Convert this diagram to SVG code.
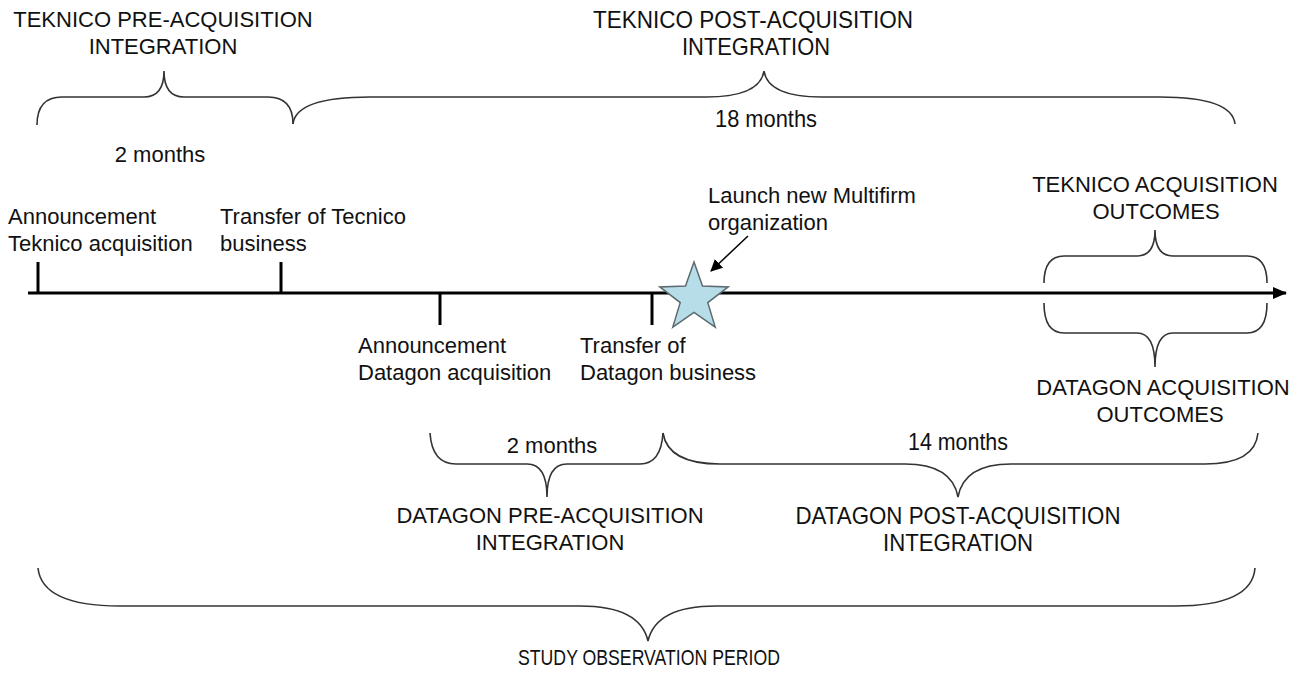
<svg xmlns="http://www.w3.org/2000/svg" width="1298" height="677" viewBox="0 0 1298 677">
<style>
text{font-family:"Liberation Sans",Arial,sans-serif;font-size:22px;fill:#111}
.c{text-anchor:middle}
.n{font-size:24px}
.brace{fill:none;stroke:#333;stroke-width:1.6}
.axis{fill:none;stroke:#000;stroke-width:3}
.tick{stroke:#000;stroke-width:3}
</style>
<defs>
<marker id="ah" markerWidth="12" markerHeight="12" refX="11" refY="6" orient="auto" markerUnits="userSpaceOnUse"><path d="M0,0 L12,6 L0,12 z" fill="#000"/></marker>
<marker id="ah2" markerWidth="14" markerHeight="12" refX="13" refY="6" orient="auto" markerUnits="userSpaceOnUse"><path d="M0,0 L14,6 L0,12 z" fill="#000"/></marker>
</defs>
<g id="connectors">
<path class="axis" d="M28,293 H1286" marker-end="url(#ah2)"/>
<path d="M748,236 L711,271" stroke="#000" stroke-width="1.5" marker-end="url(#ah)"/>
</g>
<g id="tick-teknico-announce"><line class="tick" x1="38" y1="262" x2="38" y2="293"/>
<text x="8" y="224">Announcement</text><text x="8" y="251">Teknico acquisition</text></g>
<g id="tick-teknico-transfer"><line class="tick" x1="281" y1="262" x2="281" y2="293"/>
<text x="220" y="224">Transfer of Tecnico</text><text x="220" y="251">business</text></g>
<g id="tick-datagon-announce"><line class="tick" x1="440" y1="293" x2="440" y2="325"/>
<text x="358" y="353">Announcement</text><text x="358" y="380">Datagon acquisition</text></g>
<g id="tick-datagon-transfer"><line class="tick" x1="652" y1="293" x2="652" y2="325"/>
<text x="580" y="353">Transfer of</text><text x="580" y="380">Datagon business</text></g>
<g id="launch">
<polygon points="694,262 702.5,286.1 728.2,286.9 707.8,302.6 715.2,327.1 694,312.5 672.8,327.1 680.2,302.6 659.8,286.9 685.5,286.1" fill="#b7dde8" stroke="#5b6b70" stroke-width="1.5"/>
<text x="708" y="203">Launch new Multifirm</text><text x="708" y="230">organization</text></g>
<g id="teknico-pre">
<path class="brace" d="M37,125 Q37,97 62,97 L144,97 Q164,97 164,71 Q164,97 184,97 L268,97 Q293,97 293,124"/>
<text class="c" x="163" y="27">TEKNICO PRE-ACQUISITION</text><text class="c" x="163" y="54">INTEGRATION</text>
<text class="c" x="160" y="162">2 months</text></g>
<g id="teknico-post">
<path class="brace" d="M293,124 Q296,97 370,97 L706,97 Q760,97 764,71 Q768,97 822,97 L1160,97 Q1232,97 1235,124"/>
<text class="c n" x="753" y="28" textLength="320" lengthAdjust="spacingAndGlyphs">TEKNICO POST-ACQUISITION</text><text class="c n" x="756" y="55" textLength="148" lengthAdjust="spacingAndGlyphs">INTEGRATION</text>
<text class="c n" x="766" y="127" textLength="102" lengthAdjust="spacingAndGlyphs">18 months</text></g>
<g id="teknico-outcomes">
<path class="brace" d="M1044,283 Q1044,256 1064,256 L1137,256 Q1155,256 1155,230 Q1155,256 1173,256 L1247,256 Q1267,256 1267,283"/>
<text class="c" x="1155" y="192">TEKNICO ACQUISITION</text><text class="c" x="1156" y="219">OUTCOMES</text></g>
<g id="datagon-outcomes">
<path class="brace" d="M1044,303 Q1044,333 1064,333 L1137,333 Q1155,333 1155,367 Q1155,333 1173,333 L1247,333 Q1267,333 1267,303"/>
<text class="c" x="1163" y="395">DATAGON ACQUISITION</text><text class="c" x="1160" y="422">OUTCOMES</text></g>
<g id="datagon-pre">
<path class="brace" d="M430,433 Q432,464 456,464 L527,464 Q547,464 547,497 Q547,464 567,464 L640,464 Q661,464 663,433"/>
<text class="c" x="552" y="453">2 months</text>
<text class="c" x="550" y="523">DATAGON PRE-ACQUISITION</text><text class="c" x="550" y="550">INTEGRATION</text></g>
<g id="datagon-post">
<path class="brace" d="M663,433 Q668,464 720,464 L905,464 Q952,464 958,497 Q964,464 1011,464 L1205,464 Q1255,464 1258,433"/>
<text class="c n" x="958" y="450" textLength="100" lengthAdjust="spacingAndGlyphs">14 months</text>
<text class="c n" x="958" y="524" textLength="325" lengthAdjust="spacingAndGlyphs">DATAGON POST-ACQUISITION</text><text class="c n" x="958" y="551" textLength="150" lengthAdjust="spacingAndGlyphs">INTEGRATION</text></g>
<g id="study-period">
<path class="brace" d="M38,568 Q42,606 120,606 L580,606 Q640,606 648,641 Q656,606 716,606 L1175,606 Q1252,606 1255,568"/>
<text class="c" x="649" y="665" font-size="24" textLength="262" lengthAdjust="spacingAndGlyphs">STUDY OBSERVATION PERIOD</text></g>
</svg>
